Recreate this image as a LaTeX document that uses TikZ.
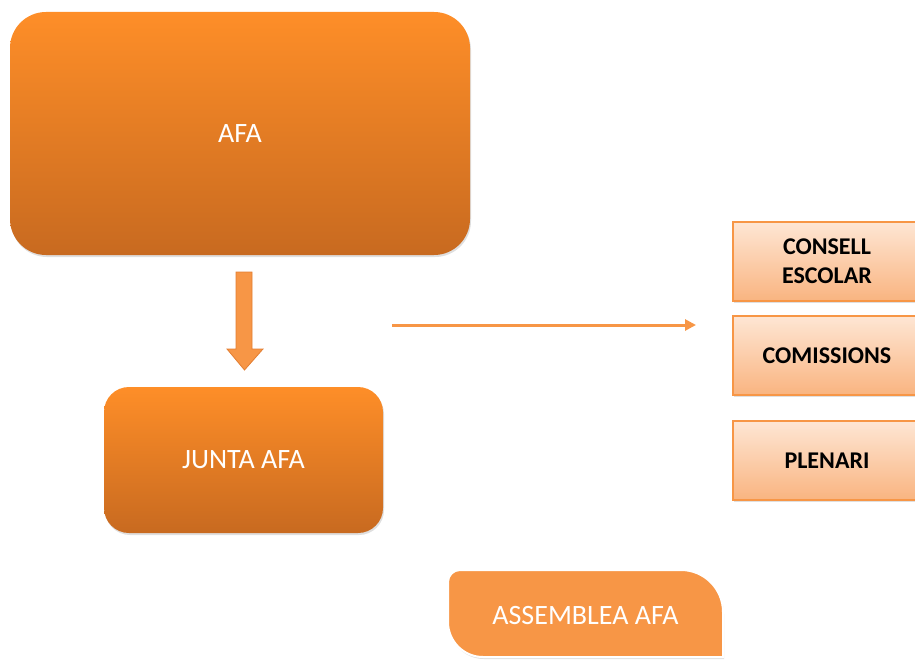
\documentclass[tikz,border=0pt]{standalone}
\usepackage{fontspec}
\setmainfont{Carlito}
\usetikzlibrary{shadows,arrows.meta}
\definecolor{orTop}{RGB}{254,142,40}
\definecolor{orBot}{RGB}{200,106,32}
\definecolor{acc}{RGB}{247,150,70}
\definecolor{accD}{RGB}{226,126,50}
\definecolor{peTop}{RGB}{254,230,212}
\definecolor{peBot}{RGB}{249,180,128}
\tikzset{
  bigbox/.style={draw=none, top color=orTop, bottom color=orBot, text=white,
    font=\fontsize{28}{30}\selectfont,
    drop shadow={shadow xshift=1pt, shadow yshift=-2pt, opacity=0.25}},
  sidebox/.style={draw=acc, line width=1.2pt, top color=peTop, bottom color=peBot,
    text=black, font=\bfseries\fontsize{24}{29}\selectfont, align=center,
    minimum width=188pt, minimum height=79pt, inner sep=0pt,
    drop shadow={shadow xshift=1pt, shadow yshift=-2pt, opacity=0.25}},
  flowline/.style={draw=acc, line width=3pt, -{Triangle[length=11pt,width=11pt]}}
}
\begin{document}
\begin{tikzpicture}[x=1pt,y=-1pt]
\useasboundingbox (0,0) rectangle (915,663);
\clip (0,0) rectangle (915,663);
% main boxes
\node[bigbox, minimum width=460pt, minimum height=243pt, rounded corners=36pt] (afa) at (240,133.5) {AFA};
\node[bigbox, minimum width=279pt, minimum height=146pt, rounded corners=25pt] (junta) at (243.5,460) {JUNTA AFA};
% block arrow down
\draw[fill=acc, draw=accD, line width=0.8pt]
  (236,272) -- (252,272) -- (252,349) -- (263,349) -- (244.5,370) -- (227,349) -- (236,349) -- cycle;
% horizontal arrow
\coordinate (hs) at (392,325);
\coordinate (he) at (696,325);
\draw[flowline] (hs) -- (he);
% side boxes
\node[sidebox] (consell) at (827,261.5) {CONSELL\\ESCOLAR};
\node[sidebox] (comis) at (827,355.5) {COMISSIONS};
\node[sidebox] (plenari) at (827,460.5) {PLENARI};
% assemblea
\path[fill=acc, draw=white, line width=2pt,
  drop shadow={shadow xshift=1pt, shadow yshift=-2pt, opacity=0.25}]
  (460,570) -- (681,570)
  .. controls (704.2,570) and (723,588.8) .. (723,612)
  -- (723,657) -- (483,657)
  .. controls (463.7,657) and (448,641.3) .. (448,622)
  -- (448,582)
  .. controls (448,575.4) and (453.4,570) .. (460,570) -- cycle;
\node[text=white, font=\fontsize{28}{30}\selectfont] (assem) at (585.5,616) {ASSEMBLEA AFA};
\end{tikzpicture}
\end{document}
